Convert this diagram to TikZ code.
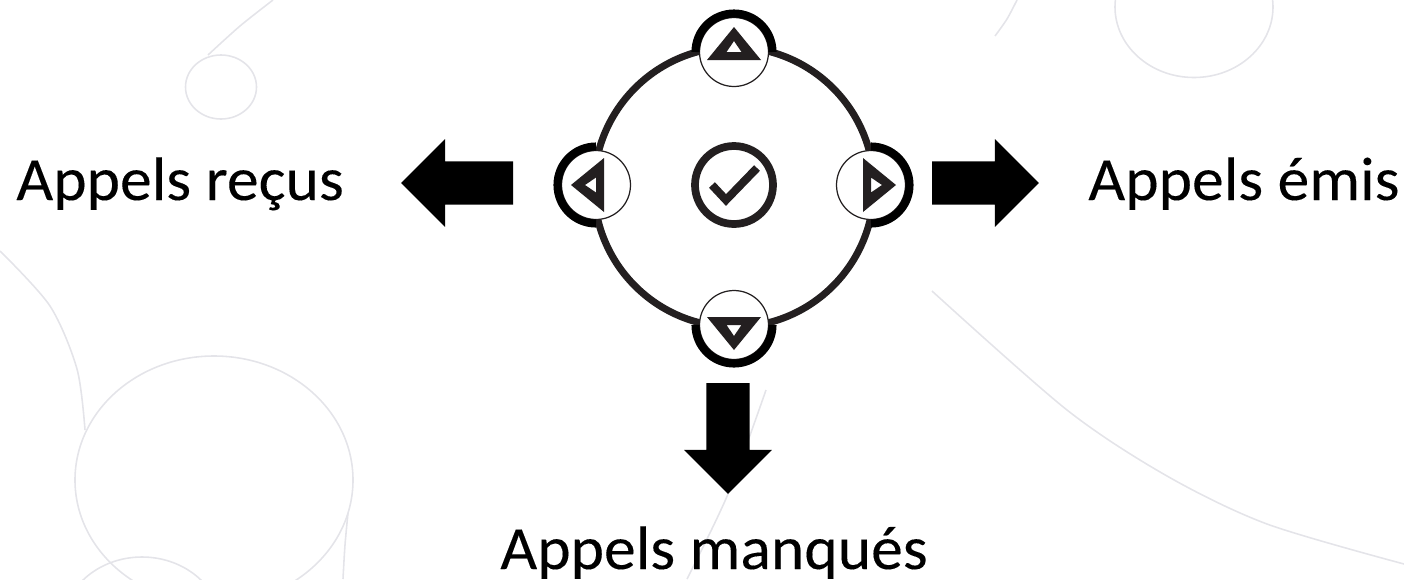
\documentclass[tikz,border=0pt]{standalone}
\usepackage{fontspec}
\setmainfont[FakeStretch=1.035, FakeBold=0.15]{Carlito}
\usetikzlibrary{shapes.arrows}
\definecolor{faint}{HTML}{E4E4E9}
\definecolor{ink}{HTML}{231F20}

\begin{document}
\begin{tikzpicture}[x=0.02cm, y=-0.02cm,
  bg/.style = {draw=faint, line width=0.9pt},
  btn/.style = {draw=ink, circle, fill=white, line width=0.7pt, minimum size=1.38cm, inner sep=0pt},
  thick arc/.style = {draw=black, line width=4.6pt},
  blockarrow/.style = {single arrow, fill=black, anchor=tail, inner sep=0.42cm, outer sep=0pt,
    minimum width=1.76cm, single arrow head extend=0.44cm, single arrow tip angle=90},
  lbl/.style = {anchor=base west, inner sep=0pt, font=\fontsize{35}{42}\selectfont}]
  \path[use as bounding box, clip] (0,0) rectangle (1404,579);

  % background
  \draw[bg] (221,87) ellipse (35.5 and 32);
  \draw[bg] (214,480) ellipse (139 and 124);
  \draw[bg] (142,628) ellipse (80 and 71);
  \draw[bg] (1194,7) ellipse (79 and 70.5);
  \draw[bg] plot[smooth] coordinates {(273,0) (240,26) (208,55)};
  \draw[bg] plot[smooth] coordinates {(0,251) (50,306) (77,369) (85,430)};
  \draw[bg] plot[smooth] coordinates {(348,513) (345,545) (343,579)};
  \draw[bg] plot[smooth] coordinates {(766,390) (728,494) (687,579)};
  \draw[bg] plot[smooth] coordinates {(1017,0) (1007,19) (995,36)};
  \draw[bg] plot[smooth] coordinates {(932,291) (1067,410) (1167,476) (1267,524) (1404,564)};

  % keypad
  \node[circle, draw=ink, line width=4pt, minimum size=5.6cm, inner sep=0pt] (ring) at (734,187) {};
  \foreach \nm/\cx/\cy/\ang in {top/734/52/0, left/596/185/90, right/871/185/-90, bottom/734/325/180} {
    \node[btn] (\nm) at (\cx,\cy) {};
    \begin{scope}[shift={(\cx,\cy)}, rotate=\ang]
      \draw[thick arc] (-38.5,0) arc[start angle=180, end angle=360, radius=38.5];
      \fill[ink, even odd rule] (0,-25) -- (27,8) -- (-27,8) -- cycle
        (0,-11) -- (7.5,0) -- (-7.5,0) -- cycle;
    \end{scope}
  }
  \node[circle, draw=ink, line width=4.4pt, minimum size=1.56cm, inner sep=0pt] (ok) at (734,185) {};
  \draw[ink, line width=4.6pt] (712,185) -- (726,200) -- (757,168);

  % arrows
  \node[blockarrow, shape border rotate=180, minimum height=2.24cm] (toin) at (513,183) {};
  \node[blockarrow, minimum height=2.14cm] (toout) at (932,183) {};
  \node[blockarrow, shape border rotate=270, minimum height=2.22cm] (tomiss) at (728,383) {};

  \node[lbl] (in) at (16,200) {Appels reçus};
  \node[lbl] (out) at (1088,200) {Appels émis};
  \node[lbl] (miss) at (500,569) {Appels manqués};
\end{tikzpicture}
\end{document}
